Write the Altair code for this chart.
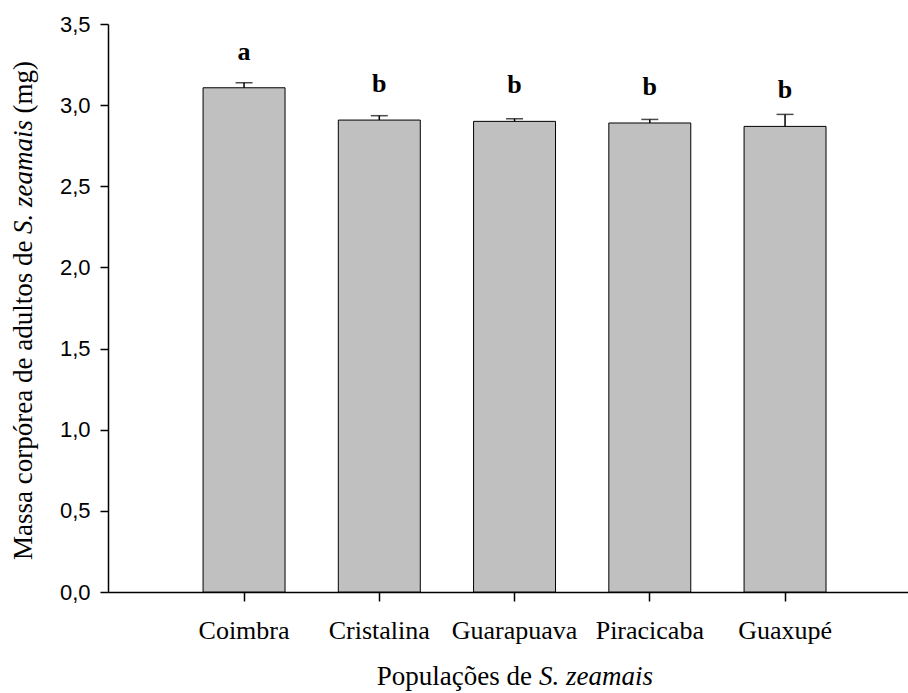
import altair as alt
import pandas as pd

populacoes = ["Coimbra", "Cristalina", "Guarapuava", "Piracicaba", "Guaxupé"]
massa = [3.107, 2.908, 2.900, 2.890, 2.869]
erro = [0.031, 0.027, 0.016, 0.022, 0.074]
letras = ["a", "b", "b", "b", "b"]
y_ticks = [0.0, 0.5, 1.0, 1.5, 2.0, 2.5, 3.0, 3.5]

df = pd.DataFrame({"pop": populacoes, "massa": massa, "erro": erro, "letra": letras})

SERIF = "Liberation Serif"
SANS = "Liberation Sans"

xenc = alt.X(
    "pop:N", sort=populacoes,
    scale=alt.Scale(paddingInner=0.394, paddingOuter=0.6545, align=0.537),
    axis=alt.Axis(title=None, labelAngle=0, labelFont=SERIF, labelFontSize=26,
                  labelColor="black", labelPadding=16, tickSize=9),
)
yscale = alt.Scale(domain=[0, 3.5], nice=False, zero=True)
yaxis = alt.Axis(title=None, values=y_ticks, grid=False,
                 labelExpr="replace(format(datum.value, '.1f'), '.', ',')",
                 labelFont=SANS, labelFontSize=22, labelColor="black",
                 labelPadding=10, tickSize=8)

base = alt.Chart(df).transform_calculate(sup="datum.massa + datum.erro")

bars = base.mark_bar(fill="#c0c0c0", stroke="black", strokeWidth=1).encode(
    x=xenc, y=alt.Y("massa:Q", scale=yscale, axis=yaxis))
rule = base.mark_rule(color="black", strokeWidth=1.5).encode(
    x=xenc, y=alt.Y("massa:Q", scale=yscale, axis=yaxis), y2="sup:Q")
cap = base.mark_tick(color="black", size=17, thickness=1.5).encode(
    x=xenc, y=alt.Y("sup:Q", scale=yscale, axis=yaxis))
letters = base.mark_text(font=SERIF, fontSize=26, fontWeight="bold", dy=-28,
                         baseline="alphabetic", color="black").encode(
    x=xenc, y=alt.Y("massa:Q", scale=yscale, axis=yaxis), text="letra:N")

def txt(s, x, y, align, angle=0, italic=False):
    kw = dict(font=SERIF, fontSize=27, color="black", align=align,
              baseline="alphabetic", angle=angle)
    if italic:
        kw["fontStyle"] = "italic"
    return alt.Chart(pd.DataFrame({"t": [s]})).mark_text(**kw).encode(
        x=alt.value(x), y=alt.value(y), text="t:N")

xt1 = txt("Populações de", 424, 661, "right")
xt2 = txt("S. zeamais", 431, 661, "left", italic=True)
yt1 = txt("Massa corpórea de adultos de", -76, 536, "left", angle=270)
yt2 = txt("S. zeamais", -76, 210, "left", angle=270, italic=True)
yt3 = txt("(mg)", -76, 37, "right", angle=270)

chart = alt.layer(bars, rule, cap, letters, xt1, xt2, yt1, yt2, yt3).properties(
    width=800, height=568,
    autosize=alt.AutoSizeParams(type="none"),
    padding={"left": 108, "top": 24, "right": 0, "bottom": 101},
).configure_view(stroke=None).configure_axis(
    domainColor="black", domainWidth=1.5, tickColor="black", tickWidth=1.5,
)

chart.save("out.html", embed_options={"renderer": "svg", "actions": False})
